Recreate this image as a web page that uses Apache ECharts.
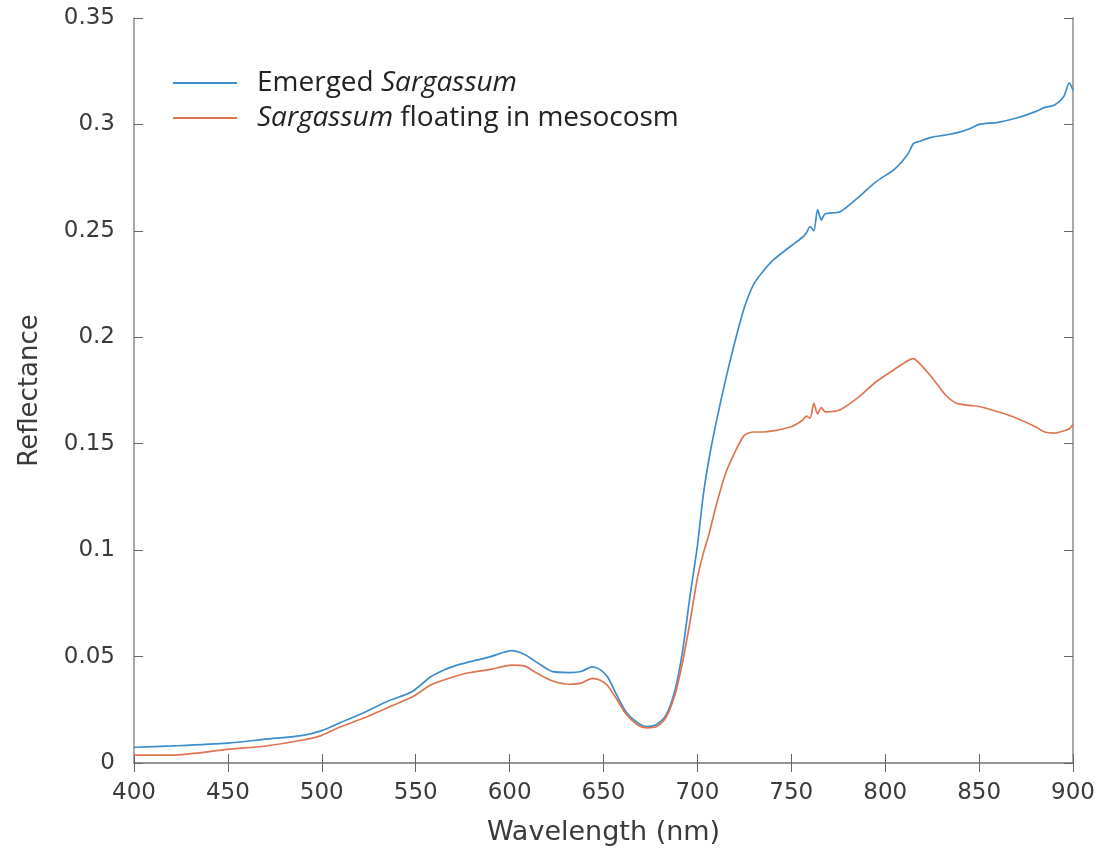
<!DOCTYPE html>
<html>
<head>
<meta charset="utf-8">
<script src="https://cdn.jsdelivr.net/npm/echarts@6/dist/echarts.min.js"></script>
<style>html,body{margin:0;padding:0;background:#fff}#c{width:1105px;height:856px}</style>
</head>
<body>
<div id="c"></div>
<script>
const wavelengths = [400,420,450,470,490,500,510,522,535,548,558,565,572,579,590,601,608,615,623,632,638,644,648,652,657,662,668,673,678,683,688,692,696,700,703,706,710,715,720,725,730,735,740,750,756,758,760,762,764,766,768,776,786,795,805,812,815,818,825,832,838,845,850,860,870,880,885,890,895,898,900];
const emerged = [0.0074,0.008,0.0093,0.0112,0.013,0.0152,0.019,0.0235,0.029,0.0335,0.0405,0.0437,0.046,0.0476,0.050,0.0528,0.051,0.047,0.0429,0.0425,0.043,0.0452,0.044,0.0406,0.032,0.024,0.019,0.0171,0.018,0.022,0.034,0.052,0.078,0.102,0.125,0.142,0.160,0.180,0.198,0.214,0.225,0.231,0.236,0.243,0.247,0.249,0.252,0.250,0.260,0.255,0.258,0.259,0.266,0.273,0.279,0.286,0.291,0.292,0.294,0.295,0.296,0.298,0.300,0.301,0.303,0.306,0.308,0.309,0.313,0.3195,0.316];
const floating = [0.0037,0.0037,0.0064,0.008,0.0108,0.013,0.017,0.021,0.026,0.031,0.0366,0.039,0.041,0.0425,0.044,0.046,0.0455,0.042,0.0385,0.037,0.0375,0.0398,0.039,0.0365,0.030,0.023,0.018,0.0165,0.017,0.021,0.032,0.047,0.066,0.087,0.098,0.107,0.121,0.136,0.146,0.154,0.1555,0.1555,0.156,0.158,0.161,0.163,0.162,0.169,0.164,0.167,0.165,0.166,0.172,0.179,0.185,0.189,0.190,0.188,0.181,0.173,0.169,0.168,0.1675,0.165,0.162,0.158,0.1555,0.155,0.156,0.157,0.159];
const xTicks = [400,450,500,550,600,650,700,750,800,850,900];
const yTicks = [0,0.05,0.1,0.15,0.2,0.25,0.3,0.35];
const seriesNames = ['Emerged Sargassum','Sargassum floating in mesocosm'];

const chart = echarts.init(document.getElementById('c'));
const axisColor = '#8c8c8c';
const labelColor = '#3a3a3a';
const tickFont = 'DejaVu Sans';
function pairs(ys){ return wavelengths.map((w,i)=>[w, ys[i]]); }
const boxAxis = {
  axisLine:{show:true,lineStyle:{color:axisColor,width:1.5}},
  axisTick:{show:true,inside:true,length:9,lineStyle:{color:'#666'}},
  splitLine:{show:false}
};
chart.setOption({
  animation:false,
  backgroundColor:'#fff',
  grid:{left:134,right:32,top:18,bottom:93,containLabel:false},
  legend:{
    left:168, top:63, orient:'vertical', itemGap:5, itemWidth:64, itemHeight:2,
    icon:'rect',
    data:seriesNames,
    formatter:function(n){
      if(n===seriesNames[0]) return '{n|Emerged }{i|Sargassum}';
      return '{i|Sargassum}{n| floating in mesocosm}';
    },
    textStyle:{
      fontFamily:'Open Sans', fontSize:28, color:'#222', lineHeight:30, padding:[0,0,0,15],
      rich:{n:{fontFamily:'Open Sans',fontSize:28,color:'#222',lineHeight:30},
            i:{fontFamily:'Open Sans',fontSize:28,fontStyle:'italic',color:'#222',lineHeight:30}}
    }
  },
  xAxis:[Object.assign({
    type:'value', min:400, max:900, interval:50,
    name:'Wavelength (nm)', nameLocation:'middle', nameGap:56,
    nameTextStyle:{fontFamily:tickFont,fontSize:27,color:labelColor},
    axisLabel:{fontFamily:tickFont,fontSize:23,color:labelColor,margin:19,formatter:v=>xTicks.includes(v)?String(v):''}
  },boxAxis),Object.assign({
    type:'value', min:400, max:900, interval:50, position:'top',
    axisLabel:{show:false}
  },boxAxis)],
  yAxis:[Object.assign({
    type:'value', min:0, max:0.35, interval:0.05,
    name:'Reflectance', nameLocation:'middle', nameGap:91,
    nameTextStyle:{fontFamily:tickFont,fontSize:26,color:labelColor},
    axisLabel:{fontFamily:tickFont,fontSize:23,color:labelColor,margin:19,
      formatter:v=>{const t=yTicks.find(x=>Math.abs(x-v)<1e-9); return t===undefined?'':String(+t.toFixed(2));}}
  },boxAxis),Object.assign({
    type:'value', min:0, max:0.35, interval:0.05, position:'right',
    axisLabel:{show:false}
  },boxAxis)],
  series:[
    {name:seriesNames[0],type:'line',data:pairs(emerged),symbol:'none',smooth:0.25,
     lineStyle:{color:'#3d8dcc',width:1.7},itemStyle:{color:'#3d8dcc'}},
    {name:seriesNames[1],type:'line',data:pairs(floating),symbol:'none',smooth:0.25,
     lineStyle:{color:'#df7450',width:1.7},itemStyle:{color:'#df7450'}}
  ]
});
</script>
</body>
</html>
